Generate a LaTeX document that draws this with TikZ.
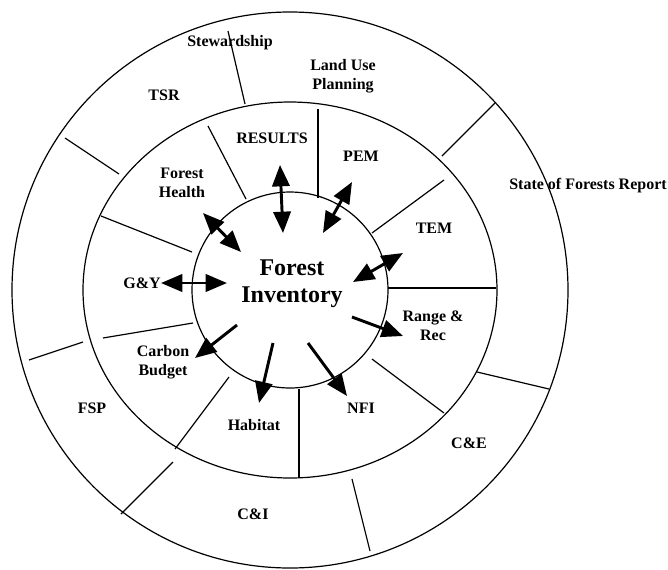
\documentclass[tikz,border=0pt]{standalone}
\usepackage{fontspec}
\setmainfont{Liberation Serif}
\usetikzlibrary{arrows.meta}

\tikzset{
  ring/.style={line width=0.9pt},
  divider/.style={line width=0.9pt},
  sector/.style={font=\bfseries\fontsize{12}{14}\selectfont, align=center, inner sep=0pt},
  flow/.style={line width=2.2pt, -{Triangle[length=16pt,width=13pt]}},
  twoway/.style={line width=2.2pt, {Triangle[length=16pt,width=13pt]}-{Triangle[length=16pt,width=13pt]}}
}

\begin{document}
\begin{tikzpicture}[x=0.75pt, y=-0.75pt]
  \useasboundingbox (0,0) rectangle (668,569);

  % rings
  \draw[ring] (290,290) circle [radius=208.5pt];
  \draw[ring] (290,290) ellipse [x radius=155.25pt, y radius=141pt];
  \draw[ring] (290,290) circle [radius=73.5pt];

  % outer ring dividers
  \draw[divider] (228,31) -- (245,104);
  \draw[divider] (65,138) -- (119,174);
  \draw[divider] (495,103) -- (442,156);
  \draw[divider] (477,372) -- (549,389);
  \draw[divider] (352,479) -- (370,551);
  \draw[divider] (173,462) -- (121,514);
  \draw[divider] (29,360) -- (83,342);

  % middle ring dividers
  \draw[divider] (208,126) -- (246,199);
  \draw[divider] (318,109) -- (318,198);
  \draw[divider] (444,180) -- (372,233);
  \draw[divider] (388,288) -- (496,288);
  \draw[divider] (372,359) -- (444,413);
  \draw[divider] (299,389) -- (299,478);
  \draw[divider] (229,377) -- (175,449);
  \draw[divider] (193,323) -- (103,338);
  \draw[divider] (101,216) -- (192,252);

  % centre
  \node[sector, font=\bfseries\fontsize{18}{20}\selectfont] (inv) at (292,284) {Forest\\Inventory};

  % outer ring labels
  \node[sector] (stew) at (230,43) {Stewardship};
  \node[sector] (tsr) at (164,95) {TSR};
  \node[sector] (lup) at (343,76) {Land Use\\Planning};
  \node[sector] (sofr) at (588,186) {State of Forests Report};
  \node[sector] (ce) at (469,443) {C\&E};
  \node[sector] (ci) at (253,514) {C\&I};
  \node[sector] (fsp) at (92,408) {FSP};

  % middle ring labels
  \node[sector] (results) at (272,138) {RESULTS};
  \node[sector] (health) at (182,183) {Forest\\Health};
  \node[sector] (pem) at (361,156) {PEM};
  \node[sector] (tem) at (434,228) {TEM};
  \node[sector] (range) at (433,326) {Range \&\\Rec};
  \node[sector] (nfi) at (361,408) {NFI};
  \node[sector] (habitat) at (254,425) {Habitat};
  \node[sector] (carbon) at (163,362) {Carbon\\Budget};
  \node[sector] (gy) at (142,283) {G\&Y};

  % arrow ends
  \coordinate (health-out) at (203,213);  \coordinate (health-in) at (241,252);
  \coordinate (results-out) at (280,165); \coordinate (results-in) at (283,233);
  \coordinate (pem-out) at (352,182);     \coordinate (pem-in) at (323,233);
  \coordinate (tem-out) at (403,253);     \coordinate (tem-in) at (353,282);
  \coordinate (gy-out) at (161,283);      \coordinate (gy-in) at (227,283);
  \coordinate (range-in) at (352,317);    \coordinate (range-out) at (403,336);
  \coordinate (nfi-in) at (308,343);      \coordinate (nfi-out) at (347,396);
  \coordinate (habitat-in) at (273,343);  \coordinate (habitat-out) at (259,403);
  \coordinate (carbon-in) at (237,325);   \coordinate (carbon-out) at (195,358);

  \draw[twoway] (health-out) -- (health-in);
  \draw[twoway] (results-out) -- (results-in);
  \draw[twoway] (pem-out) -- (pem-in);
  \draw[twoway] (tem-out) -- (tem-in);
  \draw[twoway] (gy-out) -- (gy-in);
  \draw[flow] (range-in) -- (range-out);
  \draw[flow] (nfi-in) -- (nfi-out);
  \draw[flow] (habitat-in) -- (habitat-out);
  \draw[flow] (carbon-in) -- (carbon-out);
\end{tikzpicture}
\end{document}
